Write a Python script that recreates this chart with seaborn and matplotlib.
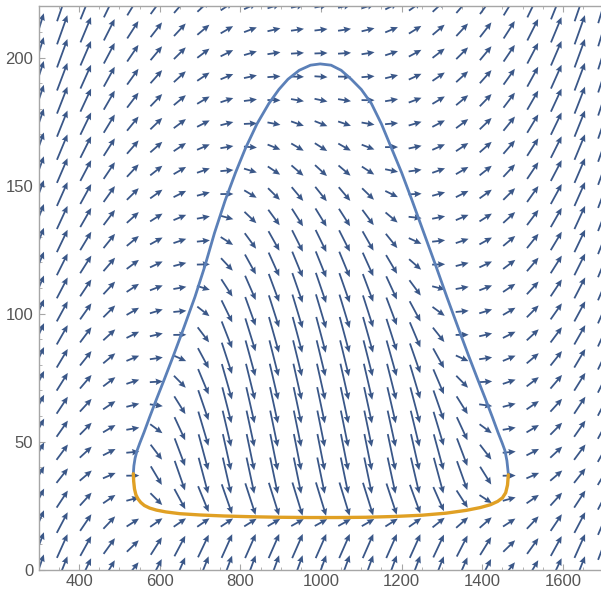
import numpy as np
import pandas as pd
import seaborn as sns
import matplotlib
matplotlib.use("Agg")
import matplotlib.pyplot as plt
from matplotlib.ticker import MultipleLocator

# ---- data ----
blue_x = [534.6, 536, 539, 544, 551, 561, 575, 592, 612, 634, 660, 687.5, 712,
          736, 762, 788, 812.6, 841, 870.6, 895.5, 918, 946, 974, 998, 1025, 1050,
          1075, 1100, 1125, 1150, 1175, 1200, 1225, 1255, 1285, 1312, 1340,
          1366, 1388, 1408, 1425, 1439, 1449, 1456, 1461, 1464.5]
blue_y = [37.4, 40.5, 43.5, 46.5, 49.5, 53.5, 59.5, 66.5, 74.5, 83.5, 94.5,
          106.5, 118.5, 131.5, 144.0, 155.0, 164.5, 174.0, 182.0, 187.5, 191.5,
          195.0, 197.0, 197.5, 197.0, 195.0, 191.5, 187.5, 182.0, 174.0, 164.5,
          155.0, 144.5, 131.5, 118.5, 106.5, 94.5, 83.5, 74.5, 66.5, 59.5, 53.5,
          49.5, 46.5, 42.5, 37.4]

orange_x = [534.6, 535.5, 537.5, 541, 546, 553, 562, 575, 592, 615, 650, 700,
            760, 830, 900, 970, 1040, 1110, 1180, 1250, 1310, 1360, 1395, 1420,
            1438, 1450, 1458, 1462.5, 1464.5]
orange_y = [37.4, 34.5, 31.5, 29.2, 27.6, 26.2, 25.0, 24.0, 23.2, 22.5, 21.8,
            21.3, 20.9, 20.6, 20.4, 20.3, 20.3, 20.4, 20.7, 21.2, 22.0, 23.1,
            24.2, 25.3, 26.6, 28.0, 30.0, 33.0, 37.0]

x_ticks = [400, 600, 800, 1000, 1200, 1400, 1600]
y_ticks = [0, 50, 100, 150, 200]

# vector-field model parameters (slope of arrows as drawn)
k_bottom = [0.036]
k_top = [0.0089]
k_inner = [0.06]
k_outside = [0.0072]
d_low = [10.0]
d_up = [80.0]
inner_scale = [140.0]
fold_y = [37.0]
peak_index = 23

sns.set_theme(style="white")
plt.rcParams["font.family"] = ["Liberation Sans", "DejaVu Sans"]

fig = plt.figure(figsize=(6.01, 5.94), dpi=100)
ax = fig.add_axes([38.7 / 601, 24.5 / 594, 564.6 / 601, 563.2 / 594])
ax.set_xlim(300, 1700)
ax.set_ylim(0, 220)

# ---- vector field ----
gx = np.linspace(300, 1700, 25)
gy = np.linspace(0, 220, 25)
GX, GY = np.meshgrid(gx, gy)
xl, xr = min(blue_x), max(blue_x)
inside = (GX >= xl) & (GX <= xr)

px = blue_x[peak_index]
yu = np.interp(GX, blue_x[:peak_index + 1], blue_y[:peak_index + 1])
yu = np.where(GX > px, np.interp(GX, blue_x[peak_index:], blue_y[peak_index:]), yu)
yl = np.interp(GX, orange_x, orange_y)
yu = np.where(inside, yu, fold_y[0])
yl = np.where(inside, yl, fold_y[0])

d_l = GY - yl
d_u = yu - GY
sat_u = d_up[0] * np.tanh(d_u / d_up[0])
g_in = k_top[0] + k_inner[0] * np.exp(-(GY / inner_scale[0]) ** 3)

v_bottom = k_bottom[0] * np.tanh(-d_l / d_low[0]) * sat_u
v_mid = -g_in * np.tanh(d_l / d_low[0]) * sat_u
v_top = k_top[0] * (GY - yu)
V = np.where(GY < yl, v_bottom, np.where(GY < yu, v_mid, v_top))
dx = np.where(GX < xl, xl - GX, np.where(GX > xr, GX - xr, 0.0))
V = V + k_outside[0] * dx

theta = np.arctan(V)
mag = np.sqrt(1 + V ** 2)
L = np.clip(13 + 9 * (mag - 1), 13, 37)
U_px = L * np.cos(theta)
V_px = L * np.sin(theta)

arrow_col = "#3a5788"
ax.quiver(GX, GY, U_px, V_px, angles="uv", scale_units="dots", scale=1,
          pivot="middle", units="dots", width=1.8, headwidth=3.6,
          headlength=4.0, headaxislength=3.6, color=arrow_col, zorder=2,
          clip_on=True)

# ---- curves ----
df_b = pd.DataFrame({"x": blue_x, "y": blue_y})
df_o = pd.DataFrame({"x": orange_x, "y": orange_y})
sns.lineplot(data=df_b, x="x", y="y", sort=False, estimator=None,
             color="#5b80b8", lw=2.0, ax=ax, zorder=3)
sns.lineplot(data=df_o, x="x", y="y", sort=False, estimator=None,
             color="#e0a024", lw=2.4, ax=ax, zorder=3)

ax.set_xlabel("")
ax.set_ylabel("")
ax.set_xticks(x_ticks)
ax.set_yticks(y_ticks)
ax.xaxis.set_minor_locator(MultipleLocator(50))
ax.yaxis.set_minor_locator(MultipleLocator(10))
frame_col = "#a6a6a6"
for side in ["left", "bottom", "top"]:
    ax.spines[side].set_visible(True)
    ax.spines[side].set_color(frame_col)
    ax.spines[side].set_linewidth(1.0)
ax.spines["right"].set_visible(False)
ax.tick_params(axis="both", which="major", direction="in", length=4,
               width=0.8, color=frame_col, labelsize=12, labelcolor="#555555",
               top=True, right=False, bottom=True, left=True)
ax.tick_params(axis="both", which="minor", direction="in", length=2.3,
               width=0.6, color=frame_col, top=True, right=False,
               bottom=True, left=True)
ax.tick_params(axis="x", pad=3)
ax.tick_params(axis="y", pad=4)
ax.grid(False)

fig.savefig("out.png", dpi=100)
